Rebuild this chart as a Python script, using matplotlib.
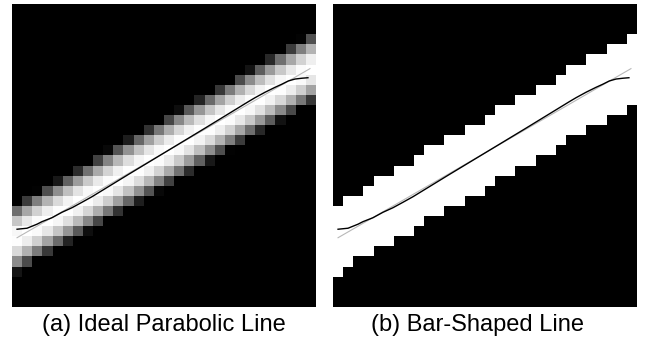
import numpy as np
import matplotlib
matplotlib.use("Agg")
import matplotlib.pyplot as plt

plt.rcParams['font.family'] = ['Liberation Sans', 'DejaVu Sans']

N = 30  # image is N x N cells

# ideal (gray) line, in cell coordinates (col, row)
line_cols = [0.0, 29.0]
line_rows = [22.64, 5.9]
half_width = 3.5  # vertical half width of the band, in rows

# bar-shaped line: first and last white row of every column
bar_top = [20, 19, 19, 18, 17, 17, 16, 16, 15, 14, 14, 13, 13, 12, 12,
           11, 10, 10, 9, 9, 8, 8, 7, 6, 6, 5, 5, 4, 4, 3]
bar_bottom = [26, 25, 24, 24, 23, 23, 22, 22, 21, 20, 20, 19, 19, 18, 18,
              17, 16, 16, 15, 15, 14, 14, 13, 12, 12, 11, 11, 10, 10, 9]

# fitted (black) curve
fit_cols = [0.0, 0.99, 1.98, 2.47, 3.46, 4.45, 5.44, 6.43, 7.42, 10.9, 14.38,
            18.6, 22.9, 23.56, 24.55, 25.54, 26.2, 26.86, 27.52, 28.2, 28.8]
fit_rows = [21.8, 21.7, 21.3, 21.05, 20.66, 20.12, 19.67, 19.13, 18.58, 16.45, 14.35,
            11.8, 9.17, 8.78, 8.24, 7.75, 7.45, 7.12, 6.93, 6.85, 6.8]

# parabolic profile image
cols = np.arange(N)
rows = np.arange(N)
slope = (line_rows[1] - line_rows[0]) / (line_cols[1] - line_cols[0])
centre = line_rows[0] + slope * (cols - line_cols[0])
dv = rows[:, None] - centre[None, :]
img_a = np.clip(1 - (dv / half_width) ** 2, 0, 1)

# bar image
img_b = np.zeros((N, N))
for c in range(N):
    img_b[bar_top[c]:bar_bottom[c] + 1, c] = 1

fig = plt.figure(figsize=(6.48, 3.42), dpi=100)
W, H = 648, 342
panels = [(12, img_a, 164, "(a) Ideal Parabolic Line"),
          (333, img_b, 477, "(b) Bar-Shaped Line")]
for left, img, cap_x, cap in panels:
    ax = fig.add_axes([left / W, 35 / H, 303 / W, 303 / H])
    ax.imshow(img, cmap='gray', vmin=0, vmax=1, interpolation='nearest',
              extent=(-0.5, N - 0.5, N - 0.5, -0.5))
    ax.plot(line_cols, line_rows, color='#b8b8b8', lw=0.8)
    ax.plot(fit_cols, fit_rows, color='black', lw=1.0)
    ax.set_xlim(-0.5, N - 0.5)
    ax.set_ylim(N - 0.5, -0.5)
    ax.axis('off')
    fig.text(cap_x / W, 1 - 325 / H, cap, ha='center', va='center', fontsize=17)

fig.savefig("out.png", dpi=100, facecolor='white')
